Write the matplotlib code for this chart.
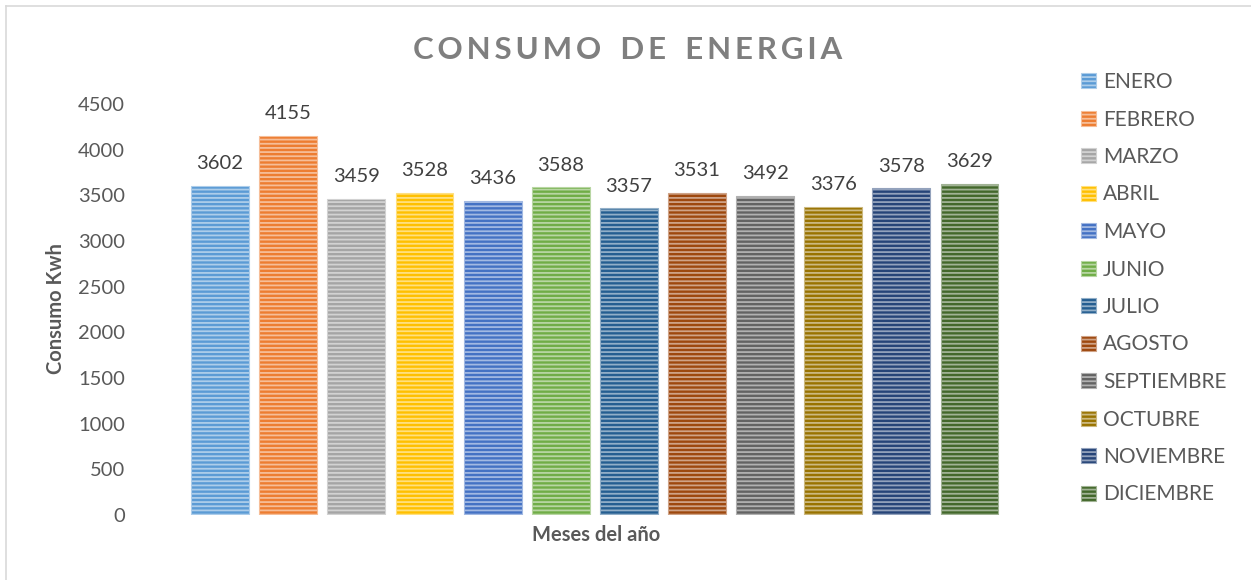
import matplotlib
matplotlib.use("Agg")
import matplotlib.pyplot as plt
from matplotlib.patches import Patch
from matplotlib.lines import Line2D
import matplotlib.colors as mcolors
import numpy as np

months = ["ENERO", "FEBRERO", "MARZO", "ABRIL", "MAYO", "JUNIO", "JULIO",
          "AGOSTO", "SEPTIEMBRE", "OCTUBRE", "NOVIEMBRE", "DICIEMBRE"]
values = [3602, 4155, 3459, 3528, 3436, 3588, 3357, 3531, 3492, 3376, 3578, 3629]
colors = ["#5B9BD5", "#ED7D31", "#A5A5A5", "#FFC000", "#4472C4", "#70AD47",
          "#255E91", "#9E480E", "#636363", "#997300", "#264478", "#43682B"]
yticks = [0, 500, 1000, 1500, 2000, 2500, 3000, 3500, 4000, 4500]

plt.rcParams['font.family'] = ['Lato', 'DejaVu Sans']
plt.rcParams['hatch.linewidth'] = 1.3

W, H = 1251, 580
fig = plt.figure(figsize=(W / 100, H / 100), dpi=100)
ax = fig.add_axes([186 / W, 65 / H, (1003.6 - 186) / W, 411 / H])


def lighten(c, f):
    r, g, b = mcolors.to_rgb(c)
    return (r + (1 - r) * f, g + (1 - g) * f, b + (1 - b) * f)


x = np.arange(len(months))
for i, (v, c) in enumerate(zip(values, colors)):
    ax.bar(x[i], v, width=0.85, color=c, edgecolor=lighten(c, 0.5),
           linewidth=0.8, hatch='----')
    ax.text(x[i], v + 150, str(v), ha='center', va='bottom',
            fontsize=14.5, color='#404040')

ax.set_xlim(-0.5, len(months) - 0.5)
ax.set_ylim(0, 4500)
ax.set_yticks(yticks)
ax.set_yticklabels([str(t) for t in yticks])
ax.set_xticks([])
ax.tick_params(axis='y', length=0, pad=44, labelsize=14.5, labelcolor='#595959')
for s in ax.spines.values():
    s.set_visible(False)

fig.text(56 / W, 1 - 309 / H, "Consumo Kwh", rotation=90, ha='center', va='center',
         fontsize=14.5, fontweight='bold', color='#595959')
fig.text(596 / W, 1 - 535 / H, "Meses del año", ha='center', va='center',
         fontsize=14.5, fontweight='bold', color='#595959')

sep = "\u2009"
gap = "  \u2009"
title = sep.join(list("CONSUMO")) + gap + sep.join(list("DE")) + gap + sep.join(list("ENERGIA"))
fig.text(628 / W, 1 - 50 / H, title, ha='center', va='center',
         fontsize=22.5, fontweight='bold', color='#7F7F7F')

handles = [Patch(facecolor=c, edgecolor=lighten(c, 0.5), linewidth=0.8, hatch='----')
           for c in colors]
leg = fig.legend(handles, months, loc='upper left', bbox_to_anchor=(1081 / W, 1 - 72 / H),
                 frameon=False, fontsize=15, labelcolor='#595959',
                 handlelength=0.72, handleheight=0.72, handletextpad=0.35,
                 labelspacing=0.84, borderaxespad=0, borderpad=0)

# chart frame (left and top edges visible)
fig.add_artist(Line2D([5.5 / W, 5.5 / W], [0, 1 - 5.5 / H], transform=fig.transFigure,
                      color='#D9D9D9', linewidth=1.2))
fig.add_artist(Line2D([5.5 / W, 1], [1 - 5.5 / H, 1 - 5.5 / H], transform=fig.transFigure,
                      color='#D9D9D9', linewidth=1.2))

fig.savefig("out.png", dpi=100)
